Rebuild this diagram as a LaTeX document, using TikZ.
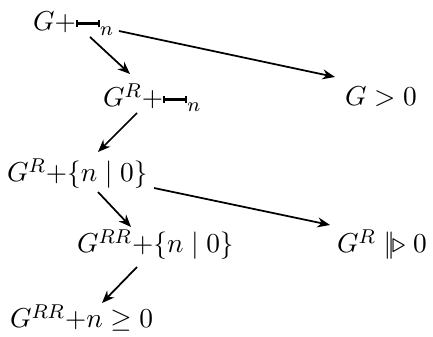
\documentclass[tikz,border=0pt]{standalone}
\usepackage{amsmath,amssymb}
\usetikzlibrary{arrows.meta}
\newcommand{\tinyb}{\mathord{\rule[0.36ex]{0.08em}{0.55ex}\rule[0.52ex]{0.72em}{0.22ex}\rule[0.36ex]{0.08em}{0.55ex}}}
\newcommand{\gfuz}{\mathrel{\vert\mkern-2.5mu\vert\mkern-2mu\triangleright}}
\begin{document}
\begin{tikzpicture}[x=0.4pt,y=-0.4pt,
  lbl/.style={anchor=base west,inner sep=0pt,outer sep=0pt,font=\fontsize{11}{13}\selectfont},
  arr/.style={-{Stealth[length=5pt,width=4pt]},line width=0.7pt}]
\useasboundingbox (0,0) rectangle (433,337);
\node[lbl] (n1) at (33,31) {$G{+}\tinyb_n$};
\node[lbl] (n2) at (345,106) {$G>0$};
\node[lbl] (n3) at (103,107) {$G^R{+}\tinyb_n$};
\node[lbl] (n4) at (7,182) {$G^R{+}\{n\mid 0\}$};
\node[lbl] (n5) at (77,253) {$G^{RR}{+}\{n\mid 0\}$};
\node[lbl] (n6) at (337,253) {$G^R\gfuz 0$};
\node[lbl] (n7) at (10,328) {$G^{RR}{+}n\geq 0$};
\draw[arr] ([shift={(86,0)}]n1.base west) -- ([shift={(-10,-29)}]n2.base west);
\draw[arr] ([shift={(57,6)}]n1.base west) -- ([shift={(27,-33)}]n3.base west);
\draw[arr] ([shift={(34,6)}]n3.base west) -- ([shift={(91,-30)}]n4.base west);
\draw[arr] ([shift={(91,10)}]n4.base west) -- ([shift={(54,-26)}]n5.base west);
\draw[arr] ([shift={(147,6)}]n4.base west) -- ([shift={(-7,-28)}]n6.base west);
\draw[arr] ([shift={(60,14)}]n5.base west) -- ([shift={(92,-25)}]n7.base west);
\end{tikzpicture}
\end{document}
